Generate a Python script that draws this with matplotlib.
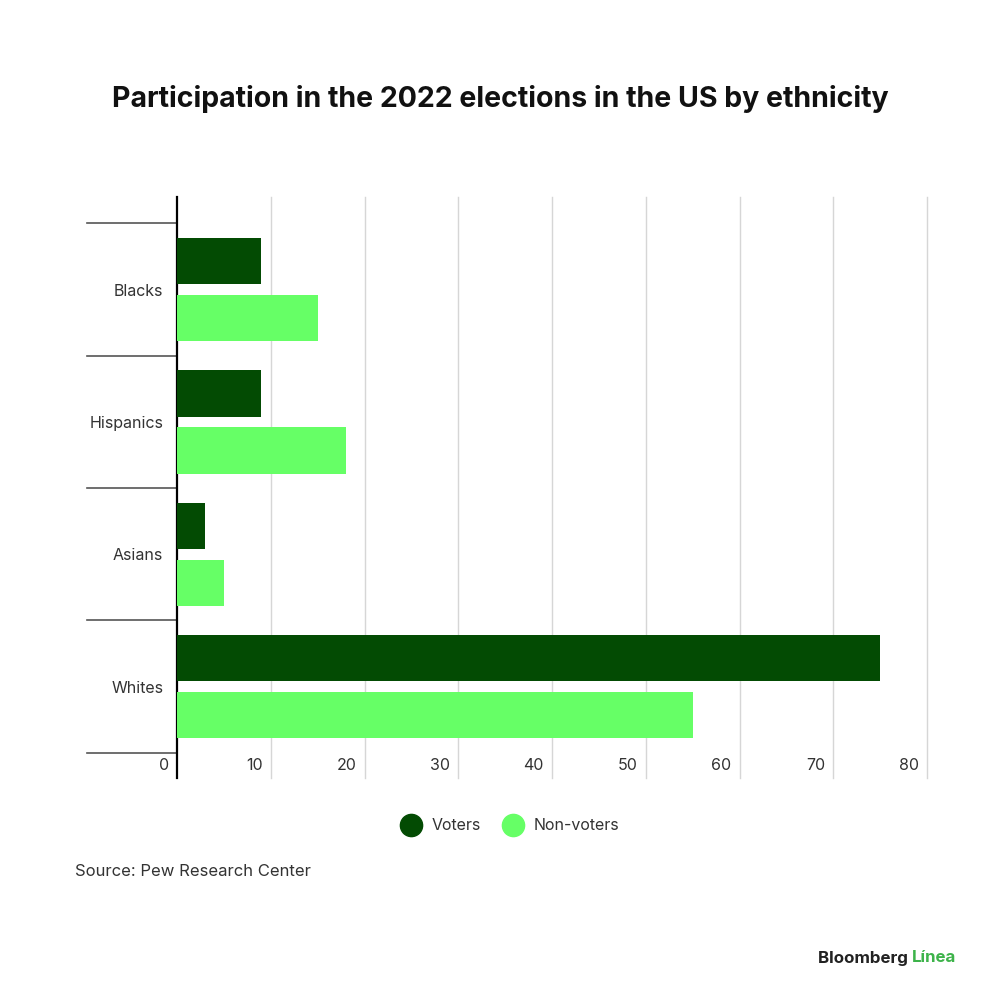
import numpy as np
import matplotlib.pyplot as plt
import matplotlib.transforms as mtransforms
from matplotlib.lines import Line2D

groups = ["Blacks", "Hispanics", "Asians", "Whites"]
voters = [9, 9, 3, 75]
non_voters = [15, 18, 5, 55]
xticks = [0, 10, 20, 30, 40, 50, 60, 70, 80]

dark = "#034b03"
light = "#66ff66"
txt = "#333333"

plt.rcParams['font.family'] = ['Inter', 'DejaVu Sans']

fig = plt.figure(figsize=(10, 10.02), dpi=100)
ax = fig.add_axes([0.177, 0.2236, 0.75, 0.5798])

y = np.arange(len(groups))
h = 0.35
off = 0.215
ax.barh(y - off, voters, height=h, color=dark, zorder=3)
ax.barh(y + off, non_voters, height=h, color=light, zorder=3)

ax.set_xlim(0, 80)
ax.set_ylim(3.69, -0.7)

# vertical grid
for t in xticks[1:]:
    ax.axvline(t, color="#d6d6d6", lw=1, zorder=1, clip_on=False)

for s in ["top", "right", "bottom"]:
    ax.spines[s].set_visible(False)
ax.spines["left"].set_color("black")
ax.spines["left"].set_linewidth(1.6)

# category separators on the left
trans = mtransforms.blended_transform_factory(ax.transAxes, ax.transData)
for b in np.arange(len(groups) + 1) - 0.5:
    ax.plot([-0.12, 0], [b, b], color="#555555", lw=1.2, transform=trans, clip_on=False)

ax.set_yticks(y)
ax.set_yticklabels(groups, fontsize=11.5, color=txt)
ax.tick_params(axis="y", length=0, pad=10)

ax.set_xticks(xticks)
ax.set_xticklabels([str(t) for t in xticks], fontsize=11.5, color=txt, ha="right")
ax.tick_params(axis="x", length=0, pad=0)
shift = mtransforms.ScaledTranslation(-8 / 100, 20 / 100, fig.dpi_scale_trans)
for lab in ax.get_xticklabels():
    lab.set_transform(lab.get_transform() + shift)

fig.text(0.5, 1 - 99 / 1002, "Participation in the 2022 elections in the US by ethnicity",
         ha="center", va="center", fontsize=20.5, fontweight="bold", color="#111111")

handles = [Line2D([], [], marker="o", ls="", markersize=16, color=dark),
           Line2D([], [], marker="o", ls="", markersize=16, color=light)]
fig.legend(handles, ["Voters", "Non-voters"], loc="center", bbox_to_anchor=(0.507, 1 - 826 / 1002),
           ncol=2, frameon=False, fontsize=11.5, handletextpad=0.3, columnspacing=1.0,
           labelcolor=txt)

fig.text(0.075, 1 - 871 / 1002, "Source: Pew Research Center", ha="left", va="center",
         fontsize=12, color=txt)

t1 = fig.text(0.818, 1 - 958 / 1002, "Bloomberg ", ha="left", va="center",
              fontsize=12.2, fontweight="bold", color="#222222")
fig.canvas.draw()
bb = t1.get_window_extent()
fig.text(bb.x1 / fig.bbox.width, 1 - 958 / 1002, "Línea", ha="left", va="center",
         fontsize=12.2, fontweight="bold", color="#3db34a")

fig.savefig("out.png", dpi=100, facecolor="white")
